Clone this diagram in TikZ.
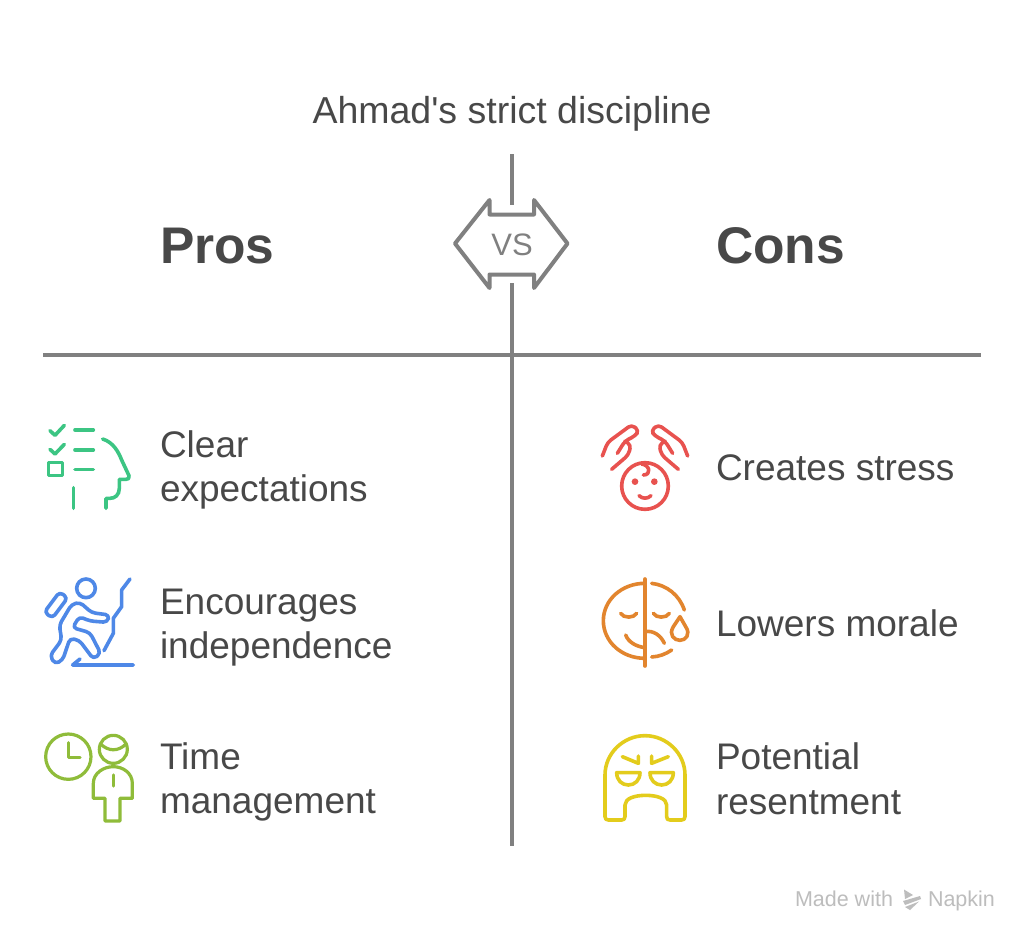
\documentclass[tikz,border=0pt]{standalone}
\usepackage{fontspec}
\setmainfont{Liberation Sans}
\newfontfamily\plainface{Liberation Sans}
\definecolor{ink}{HTML}{484848}
\definecolor{rule}{HTML}{808080}
\definecolor{wm}{HTML}{BDBDBD}
\definecolor{cgreen}{HTML}{3CC583}
\definecolor{cblue}{HTML}{4E88E7}
\definecolor{clime}{HTML}{8FBC3A}
\definecolor{cred}{HTML}{E8524F}
\definecolor{corange}{HTML}{E2852E}
\definecolor{cyellow}{HTML}{E3CC1C}
\tikzset{
  txt/.style={inner sep=0pt,outer sep=0pt,text=ink,font=\fontsize{37}{44.5}\selectfont,align=left},
  hd/.style={inner sep=0pt,outer sep=0pt,text=ink,font=\fontsize{51.5}{60}\selectfont\bfseries},
  ttl/.style={inner sep=0pt,outer sep=0pt,text=ink,font=\plainface\fontsize{37.5}{44}\selectfont},
  rl/.style={draw=rule,line width=4pt},
  ic/.style={line width=3.6pt,line cap=round,line join=round,fill=none},
  wmt/.style={inner sep=0pt,outer sep=0pt,text=wm,font=\fontsize{21.5}{24}\selectfont},
}
\begin{document}
\begin{tikzpicture}[x=1pt,y=-1pt]
\useasboundingbox (0,0) rectangle (1024,934);
\fill[white] (0,0) rectangle (1024,934);
% rules
\coordinate (vt) at (511.5,154); \coordinate (vm) at (511.5,205);
\coordinate (vn) at (511.5,283); \coordinate (vb) at (511.5,846);
\coordinate (hl) at (43,355); \coordinate (hr) at (981,355);
\draw[rl] (vt)--(vm);
\draw[rl] (vn)--(vb);
\draw[rl] (hl)--(hr);
% vs badge
\draw[draw=rule,line width=4pt,line join=round] (455,243.5)--(489.5,200)--(489.5,214.5)--(534,214.5)--(534,200)--(567.5,243.5)--(534,288)--(534,274.5)--(489.5,274.5)--(489.5,288)--cycle;
\node[inner sep=0pt,text=rule,font=\fontsize{31}{33}\selectfont] (vs) at (512,244.5) {VS};
% texts
\node[ttl,anchor=base] (title) at (512,123) {Ahmad's strict discipline};
\node[hd,anchor=base west] (pros) at (160,263.5) {Pros};
\node[hd,anchor=base west] (cons) at (716,263.5) {Cons};
\node[txt,anchor=west] (t1) at (160,470) {Clear\\expectations};
\node[txt,anchor=west] (t2) at (160,627.5) {Encourages\\independence};
\node[txt,anchor=west] (t3) at (160,782) {Time\\management};
\node[txt,anchor=base west] (t4) at (716,480) {Creates stress};
\node[txt,anchor=base west] (t5) at (716,636) {Lowers morale};
\node[txt,anchor=west] (t6) at (716,779) {Potential\\resentment};
% watermark
\node[wmt,anchor=base west] (wm1) at (795,906) {Made with};
\node[wmt,anchor=base west] (wm2) at (928,906) {Napkin};
\fill[wm] (904,889.5)--(913,895)--(905,899)--cycle;
\fill[wm] (903,901)--(920,896)--(921,899)--(905,905)--cycle;
\fill[wm] (905,907)--(919,901.5)--(910,910)--cycle;
% green icon
\begin{scope}[shift={(30,410)},x=0.3333pt,y=-0.3333pt,ic,draw=cgreen]
\draw (60,62)--(75,76)--(103,46);
\draw (135,60)--(190,60);
\draw (60,118)--(75,132)--(103,103);
\draw (135,120)--(190,120);
\draw (55,157) rectangle (97,197);
\draw (135,178)--(190,178);
\draw (130,233)--(130,295);
\draw (218,87) .. controls (250,97) and (265,125) .. (275,150) -- (297,197) .. controls (299,205) and (295,208) .. (288,208) -- (268,208) -- (268,235) .. controls (268,255) and (255,265) .. (240,265) -- (228,265) -- (228,295);
\end{scope}
% blue icon
\begin{scope}[shift={(30,565)},x=0.3333pt,y=-0.3333pt,ic,draw=cblue]
\draw (168,70) circle[radius=28];
\draw[rounded corners=4pt] (112.8,98.6)--(88.8,80.6)--(43.2,141.4)--(67.2,159.4)--cycle;
\draw[rounded corners=4pt] (150,112)--(125,118)--(88,180)--(95,225)--(60,272)--(75,297)--(98,285)--(120,220)--(148,226)--(190,282)--(212,265)--(180,203)--(128,188)--(148,155)--(180,168)--(232,172)--(238,150)--(185,143)--cycle;
\draw (300,42)--(275,75)--(275,125)--(250,160)--(250,205)--(222,257);
\draw (310,300)--(128,300)--(150,282);
\end{scope}
% lime icon
\begin{scope}[shift={(30,720)},x=0.3333pt,y=-0.3333pt,ic,line width=3.2pt,draw=clime]
\draw (115,110) circle[radius=68];
\draw (115,68)--(115,113)--(150,113);
\draw (250,88) circle[radius=42];
\draw (212,72) .. controls (235,95) and (265,95) .. (288,72);
\draw (190,235) -- (190,190) .. controls (190,160) and (220,140) .. (250,140) .. controls (280,140) and (307,160) .. (307,190) -- (307,235) -- (270,235) -- (270,303) -- (225,303) -- (225,235) -- cycle;
\draw (250,165)--(250,198);
\end{scope}
% red icon
\begin{scope}[shift={(585,410)},x=0.3333pt,y=-0.3333pt,ic,draw=cred]
\draw (180,228) circle[radius=70];
\fill[cred] (150,215) circle[radius=10];
\fill[cred] (208,215) circle[radius=10];
\draw (162,257) .. controls (172,267) and (188,267) .. (198,257);
\draw (170,162) .. controls (195,165) and (200,195) .. (175,195);
\draw[rounded corners=4pt] (52,138)--(68,97)--(140,44)--(162,62)--(150,78)--(120,93)--(97,130);
\draw[rounded corners=4pt] (120,93)--(138,105)--(130,135)--(80,178);
\draw[rounded corners=4pt] (308,138)--(292,97)--(220,44)--(198,62)--(210,78)--(240,93)--(263,130);
\draw[rounded corners=4pt] (240,93)--(222,105)--(230,135)--(280,178);
\end{scope}
% orange icon
\begin{scope}[shift={(585,565)},x=0.3333pt,y=-0.3333pt,ic,draw=corange]
\draw (180,42)--(180,303);
\draw (180,55) .. controls (110,55) and (55,105) .. (55,167) .. controls (55,230) and (110,280) .. (180,280);
\draw (200,55) .. controls (245,60) and (283,90) .. (298,135);
\draw (200,276) .. controls (222,275) and (243,267) .. (260,255);
\draw (107,145) .. controls (115,160) and (147,160) .. (155,145);
\draw (205,145) .. controls (213,160) and (245,160) .. (253,145);
\draw (122,210) .. controls (130,232) and (155,245) .. (180,248);
\draw (180,200) .. controls (205,195) and (228,212) .. (238,235);
\draw (285,155) -- (265,185) .. controls (250,210) and (268,226) .. (285,226) .. controls (302,226) and (318,208) .. (302,185) -- cycle;
\end{scope}
% yellow icon
\begin{scope}[shift={(585,720)},x=0.3333pt,y=-0.3333pt,ic,draw=cyellow]
\draw (60,165) .. controls (60,100) and (115,47) .. (180,47) .. controls (245,47) and (300,100) .. (300,165) -- (300,290) .. controls (300,297) and (296,300) .. (290,300) -- (255,300) .. controls (248,300) and (245,297) .. (245,290) -- (245,255) .. controls (245,235) and (215,226) .. (182,226) .. controls (150,226) and (120,235) .. (120,255) -- (120,290) .. controls (120,297) and (116,300) .. (110,300) -- (70,300) .. controls (64,300) and (60,297) .. (60,290) -- cycle;
\draw (112,110)--(160,130)--(160,108);
\draw (250,110)--(200,130)--(200,108);
\draw (95,158)--(165,158) .. controls (165,180) and (150,195) .. (130,195) .. controls (110,195) and (95,180) .. (95,158) -- cycle;
\draw (195,158)--(265,158) .. controls (265,180) and (250,195) .. (230,195) .. controls (210,195) and (195,180) .. (195,158) -- cycle;
\end{scope}
\end{tikzpicture}
\end{document}
